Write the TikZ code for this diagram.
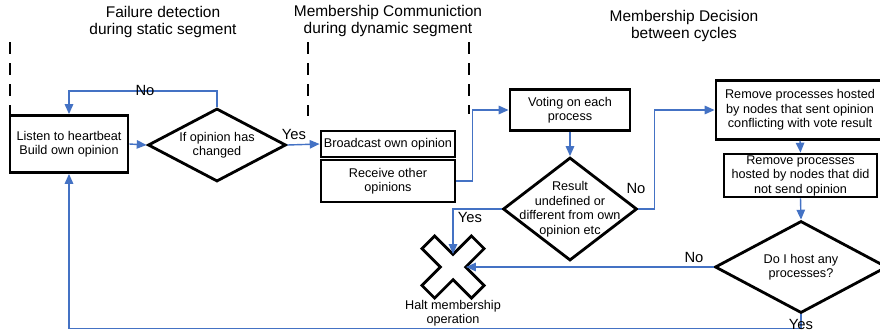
\documentclass[tikz,border=0pt]{standalone}
\usepackage{fontspec}
\setmainfont{Liberation Sans}
\usepackage{tikz}
\usetikzlibrary{arrows.meta, positioning, shapes.geometric}
\definecolor{flowBlue}{RGB}{68,114,196}

\begin{document}
\begin{tikzpicture}[
    x=0.025cm, y=-0.025cm,
    flowbox/.style={draw=black, fill=white, line width=2pt, align=center,
      font=\fontsize{9}{10.3}\selectfont, inner sep=0pt},
    decide/.style={diamond, draw=black, fill=white, line width=2pt, inner sep=0pt},
    inlabel/.style={align=center, font=\fontsize{9}{10.3}\selectfont, inner sep=0pt},
    heading/.style={align=center, font=\fontsize{11}{12.5}\selectfont, inner sep=0pt},
    answer/.style={font=\fontsize{10.5}{12}\selectfont, inner sep=0pt},
    segline/.style={line width=1.1pt, dash pattern=on 8.5pt off 6.5pt},
    flow/.style={-{Triangle[length=7pt,width=6pt]}, line width=1pt, draw=flowBlue},
    halting/.style={draw=black, fill=white, line width=2pt, line join=miter}
  ]
    \useasboundingbox (0,0) rectangle (880,331);

    \node[heading] (t1) at (163,22) {Failure detection\\during static segment};
    \node[heading] (t2) at (388,21) {Membership Communiction\\during dynamic segment};
    \node[heading] (t3) at (684,26) {Membership Decision\\between cycles};

    \draw[segline] (10,42) -- (10,116);
    \draw[segline] (308,42) -- (308,116);
    \draw[segline] (469,42) -- (469,114);

    \node[flowbox, minimum width=2.95cm, minimum height=1.425cm] (listen) at (69,144)
      {Listen to heartbeat\\Build own opinion};
    \node[decide, minimum width=3.45cm, minimum height=1.825cm] (chg) at (217,145) {};
    \node[inlabel] at (chg) {If opinion has\\changed};

    \node[flowbox, minimum width=3.35cm, minimum height=0.65cm] (bcast) at (388,144)
      {Broadcast own opinion};
    \node[flowbox, minimum width=3.35cm, minimum height=1.05cm] (recv) at (388,181)
      {Receive other\\opinions};

    \node[flowbox, minimum width=3.0cm, minimum height=1.025cm] (vote) at (570,110)
      {Voting on each\\process};
    \node[decide, minimum width=3.35cm, minimum height=2.575cm] (res) at (570,209) {};
    \node[inlabel] at (res) {Result\\undefined or\\different from own\\opinion etc};

    \node[flowbox, minimum width=4.2cm, minimum height=1.475cm] (rmconf) at (800,110)
      {Remove processes hosted\\by nodes that sent opinion\\conflicting with vote result};
    \node[flowbox, minimum width=3.825cm, minimum height=1.075cm] (rmsil) at (800.5,175.5)
      {Remove processes\\hosted by nodes that did\\not send opinion};
    \node[decide, minimum width=4.3cm, minimum height=2.3cm] (host) at (801,267) {};
    \node[inlabel] at (host) {Do I host any\\processes?};

    \node[circle, minimum size=0.635cm, inner sep=0pt] (halt) at (453,267) {};
    \draw[halting, shift={(halt.center)}, rotate=45]
      (9,9) -- (35,9) -- (35,-9) -- (9,-9) -- (9,-35) -- (-9,-35) -- (-9,-9)
      -- (-35,-9) -- (-35,9) -- (-9,9) -- (-9,35) -- (9,35) -- cycle;
    \node[inlabel, below=0.5cm of halt] (haltlbl) {Halt membership\\operation};

    \draw[flow] (listen.east) -- (chg.west);
    \draw[flow] (chg.north) -- ++(0,-16) -| (listen.north);
    \draw[flow] (chg.east) -- (bcast.west);
    \draw[flow] (recv.east) -- ++(16,0) |- (vote.west);
    \draw[flow] (vote.south) -- (res.north);
    \draw[flow] (res.east) -- ++(16,0) |- (rmconf.west);
    \draw[flow] (res.west) -| (halt.north);
    \draw[flow] (rmconf.south) -- (rmsil.north);
    \draw[flow] (rmsil.south) -- (host.north);
    \draw[flow] (host.west) -- (halt.east);
    \draw[flow] (host.south) -- ++(0,14) -| (listen.south);

    \node[answer] at (145,90) {No};
    \node[answer] at (294,134) {Yes};
    \node[answer] at (636,188) {No};
    \node[answer] at (470,217) {Yes};
    \node[answer] at (694,257) {No};
    \node[answer] at (801,324) {Yes};
  \end{tikzpicture}
\end{document}
